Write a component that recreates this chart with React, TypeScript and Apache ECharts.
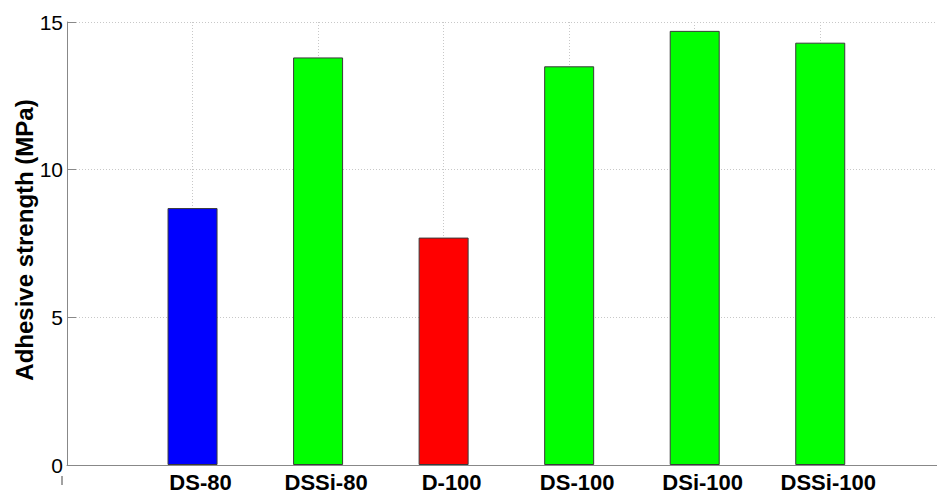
import React, { useEffect, useRef } from "react";
import * as echarts from "echarts";

const categories = ["DS-80", "DSSi-80", "D-100", "DS-100", "DSi-100", "DSSi-100"];
const values = [8.7, 13.8, 7.7, 13.5, 14.7, 14.3];
const colors = ["#0000ff", "#00ff00", "#ff0000", "#00ff00", "#00ff00", "#00ff00"];
const yTicks = [0, 5, 10, 15];
const yTitle = "Adhesive strength (MPa)";

export default function App() {
  const ref = useRef<HTMLDivElement>(null);
  useEffect(() => {
    document.body.style.margin = "0";
    if (!ref.current) return;
    const chart = echarts.init(ref.current, null, { renderer: "svg" });
    const font = "'Liberation Sans', Arial, Helvetica, sans-serif";
    chart.setOption({
      animation: false,
      backgroundColor: "#ffffff",
      grid: { left: 67, right: 0, top: 22, bottom: 27, containLabel: false },
      xAxis: {
        type: "value",
        min: 0,
        max: 6.93,
        interval: 1,
        axisLine: { show: true, lineStyle: { color: "#888888", width: 1 } },
        axisTick: { show: false },
        splitLine: {
          show: true,
          lineStyle: { color: "#c8c8c8", type: [1, 2], width: 1 },
        },
        axisLabel: {
          show: true,
          margin: 6,
          padding: [0, 0, 0, 16],
          fontFamily: font,
          fontWeight: "bold",
          fontSize: 22,
          color: "#000",
          showMaxLabel: false,
          formatter: (v: number) => {
            const i = Math.round(v);
            return i >= 1 && i <= categories.length && Math.abs(v - i) < 1e-6 ? categories[i - 1] : "";
          },
        },
      },
      yAxis: {
        type: "value",
        min: 0,
        max: 15,
        interval: 5,
        axisLine: { show: true, lineStyle: { color: "#888888", width: 1 } },
        axisTick: { show: true, inside: true, length: 9, lineStyle: { color: "#888888" } },
        splitLine: {
          show: true,
          lineStyle: { color: "#c8c8c8", type: [1, 2], width: 1 },
        },
        axisLabel: {
          margin: 4,
          fontFamily: font,
          fontSize: 21,
          color: "#000",
          formatter: (v: number) => (yTicks.includes(v) ? String(v) : ""),
        },
      },
      graphic: [
        {
          type: "text",
          x: 24,
          y: 240,
          rotation: Math.PI / 2,
          style: {
            text: yTitle,
            align: "center",
            verticalAlign: "middle",
            font: `bold 24px ${font}`,
            fill: "#000",
          },
        },
        {
          type: "line",
          shape: { x1: 62, y1: 476, x2: 62, y2: 485 },
          style: { stroke: "#444", lineWidth: 1 },
        },
      ],
      series: [
        {
          type: "bar",
          barWidth: 50,
          data: values.map((v, i) => ({
            value: [i + 1, v],
            itemStyle: { color: colors[i], borderColor: "#3a3a3a", borderWidth: 1 },
          })),
        },
      ],
    });
    return () => chart.dispose();
  }, []);
  return <div ref={ref} style={{ width: 937, height: 493 }} />;
}
